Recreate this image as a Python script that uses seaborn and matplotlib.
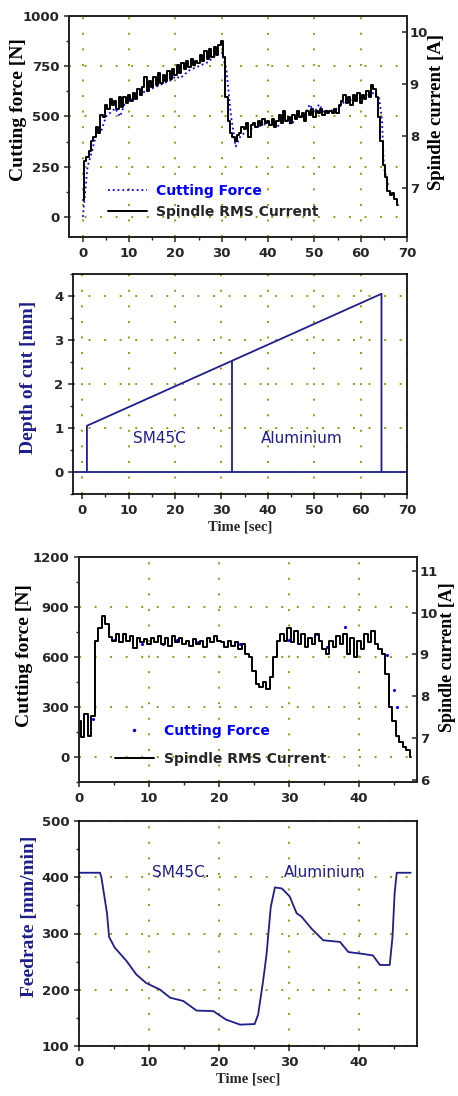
"""Cutting force / spindle current, depth of cut and feedrate traces (two cutting tests)."""
import numpy as np
import matplotlib
matplotlib.use("Agg")
import matplotlib.pyplot as plt
from matplotlib.lines import Line2D
from matplotlib.ticker import MultipleLocator
import seaborn as sns

# --- test 1: ramped depth of cut -------------------------------------------
# spindle RMS current [A], sampled every 0.5 s from t = 0
current1 = [
    6.77, 7.52, 7.60, 7.71, 7.90, 7.98, 8.17, 8.06, 8.40, 8.37,
    8.60, 8.52, 8.71, 8.60, 8.67, 8.52, 8.75, 8.56, 8.75, 8.63,
    8.79, 8.67, 8.83, 8.71, 8.90, 8.79, 8.94, 9.13, 8.87, 9.06,
    8.94, 9.13, 8.98, 9.21, 9.02, 9.17, 9.06, 9.25, 9.10, 9.29,
    9.17, 9.36, 9.21, 9.40, 9.29, 9.44, 9.33, 9.48, 9.37, 9.44,
    9.40, 9.56, 9.44, 9.63, 9.48, 9.67, 9.52, 9.71, 9.56, 9.75,
    9.83, 9.52, 8.75, 8.29, 8.06, 7.98, 7.90, 8.02, 8.06, 8.17,
    8.13, 8.25, 7.98, 8.21, 8.25, 8.17, 8.29, 8.21, 8.33, 8.25,
    8.29, 8.21, 8.33, 8.17, 8.29, 8.40, 8.25, 8.48, 8.29, 8.37,
    8.25, 8.40, 8.33, 8.48, 8.37, 8.44, 8.29, 8.48, 8.40, 8.52,
    8.37, 8.48, 8.44, 8.52, 8.40, 8.48, 8.44, 8.48, 8.44, 8.52,
    8.44, 8.60, 8.67, 8.79, 8.63, 8.75, 8.60, 8.79, 8.67, 8.83,
    8.63, 8.79, 8.71, 8.87, 8.75, 8.98, 8.90, 8.75, 8.37, 7.90,
    7.44, 7.21, 6.94, 6.87, 6.90, 6.79, 6.67,
]
# cutting force [N] (dynamometer, sparse samples)
force1_time = [
    0, 1, 2, 3, 4, 5, 6, 7, 8, 9, 10, 11, 12, 13, 14, 15, 16, 17, 18, 19,
    20, 21, 22, 23, 24, 25, 26, 27, 28, 29, 30, 31, 32, 33, 34, 35, 36, 37,
    38, 39, 40, 41, 42, 43, 44, 45, 46, 47, 48, 49, 50, 51, 52, 53, 54, 55,
    56, 57, 58, 59, 60, 61, 62, 63, 64, 64.6, 65, 66,
]
force1 = [
    0, 250, 330, 420, 430, 500, 520, 540, 500, 560, 580, 590, 600, 620,
    630, 640, 650, 660, 670, 680, 700, 690, 710, 730, 740, 750, 760, 770,
    790, 810, 820, 730, 500, 350, 400, 420, 430, 450, 450, 460, 460, 460,
    450, 470, 480, 460, 490, 500, 510, 560, 520, 560, 520, 530, 530, 540,
    560, 590, 580, 580, 590, 600, 610, 620, 590, 480, 250, 150,
]
# depth of cut profile [mm]
depth_time = [1.0, 1.0, 64.5, 64.5]
depth = [0.0, 1.05, 4.05, 0.0]
boundary_time = 32.3
boundary_depth = 2.53
materials = ["SM45C", "Aluminium"]

# --- test 2: feedrate control ----------------------------------------------
current2 = [
    7.42, 7.02, 7.58, 7.06, 7.54, 9.33, 9.64, 9.93, 9.72, 9.41,
    9.33, 9.49, 9.29, 9.49, 9.33, 9.45, 9.16, 9.40, 9.29, 9.37,
    9.25, 9.40, 9.29, 9.45, 9.25, 9.40, 9.21, 9.45, 9.29, 9.40,
    9.25, 9.33, 9.21, 9.37, 9.25, 9.33, 9.17, 9.40, 9.29, 9.45,
    9.33, 9.29, 9.17, 9.33, 9.21, 9.29, 9.13, 9.25, 9.01, 8.93,
    8.61, 8.29, 8.21, 8.33, 8.17, 8.45, 8.93, 9.33, 9.48, 9.33,
    9.64, 9.29, 9.56, 9.25, 9.48, 9.17, 9.40, 9.25, 9.48, 9.33,
    9.13, 9.01, 9.33, 9.17, 9.45, 9.25, 9.48, 9.01, 9.40, 8.93,
    9.33, 9.13, 9.48, 9.29, 9.56, 9.25, 9.13, 9.01, 8.53, 7.74,
    7.42, 7.06, 6.90, 6.79, 6.71, 6.55,
]
force2_time = [2.0, 5.0, 9.0, 12.0, 14.0, 17.0, 23.0, 30.0, 34.0, 35.5, 38.0, 44.0, 45.0, 45.5]
force2 = [230, 700, 680, 680, 700, 690, 680, 700, 740, 660, 780, 610, 400, 300]
feed_time = [
    0, 3.0, 3.2, 4.0, 4.3, 5.1, 6.8, 8.2, 9.6, 11.6, 13.0, 14.9, 16.8, 19.2,
    21.0, 23.0, 25.1, 25.6, 26.3, 26.8, 27.4, 28.0, 29.0, 30.1, 31.1, 31.8,
    33.2, 34.9, 37.3, 38.5, 40.4, 42.0, 43.0, 44.4, 44.8, 45.1, 45.4, 47.4,
]
feedrate = [
    408, 408, 400, 336, 294, 275, 251, 227, 212, 200, 186, 180, 163, 162,
    147, 138, 139, 156, 215, 263, 347, 382, 380, 366, 336, 330,
    309, 288, 285, 267, 264, 261, 244, 244, 294, 371, 408, 408,
]

BLUE = "#0000ff"
NAVY = "#1e1e8c"
OLIVE = "#9a9a10"
W, H = 458, 1096

sns.set_style("ticks")
plt.rcParams["font.family"] = ["DejaVu Sans"]
plt.rcParams["axes.linewidth"] = 1.2


def box(left, top, right, bottom):
    return [left / W, 1 - bottom / H, (right - left) / W, (bottom - top) / H]


def style(ax, xmaj, ymaj, ymin):
    ax.xaxis.set_major_locator(MultipleLocator(xmaj))
    ax.xaxis.set_minor_locator(MultipleLocator(xmaj / 2))
    ax.yaxis.set_major_locator(MultipleLocator(ymaj))
    ax.yaxis.set_minor_locator(MultipleLocator(ymin))
    ax.tick_params(which="major", direction="out", length=3.5, width=1.1, labelsize=9.5)
    ax.tick_params(which="minor", direction="out", length=2, width=1)
    for lab in ax.get_xticklabels() + ax.get_yticklabels():
        lab.set_fontweight("bold")
    ax.grid(True, which="major", color=OLIVE, linestyle=(0, (1, 7)), linewidth=1.4)
    for s in ax.spines.values():
        s.set_color("black")
        s.set_visible(True)


def right_axis(ax, lo, hi):
    ax.set_ylim(lo, hi)
    ax.yaxis.set_major_locator(MultipleLocator(1))
    ax.tick_params(direction="in", length=3.5, width=1.1, labelsize=9.5, pad=2)
    for lab in ax.get_yticklabels():
        lab.set_fontweight("bold")


def ylab(ax, text, x, y, color="black", size=14):
    ax.set_ylabel(text, family=["Liberation Serif"], fontweight="bold", fontsize=size, color=color, rotation=90)
    ax.yaxis.set_label_coords(x, y)


def legend(ax, handles, anchor, spacing):
    leg = ax.legend(handles, ["Cutting Force", "Spindle RMS Current"], loc="lower left",
                    bbox_to_anchor=anchor, frameon=False, borderpad=0,
                    prop={"size": 10, "weight": "bold"},
                    handlelength=2.8, handletextpad=0.7, labelspacing=spacing)
    leg.get_texts()[0].set_color(BLUE)


fig = plt.figure(figsize=(W / 100, H / 100), dpi=100)

# ---- panel 1 ----
ax1 = fig.add_axes(box(69, 16, 407, 237))
t1 = 0.5 * np.arange(len(current1))
sns.lineplot(x=force1_time, y=force1, ax=ax1, color=BLUE, linestyle=":", linewidth=1.3, estimator=None)
ax1.set_xlim(-3, 70)
ax1.set_ylim(-100, 1000)
style(ax1, 10, 250, 125)
ylab(ax1, "Cutting force [N]", -0.124, 0.575)
ax1b = ax1.twinx()
sns.lineplot(x=t1, y=current1, ax=ax1b, color="black", linewidth=1.4, drawstyle="steps-mid", estimator=None)
right_axis(ax1b, 6.06, 10.31)
ylab(ax1b, "Spindle current [A]", 1.062, 0.566, size=13.5)
legend(ax1b, [Line2D([], [], color=BLUE, linestyle=":", linewidth=1.3),
              Line2D([], [], color="black", linewidth=1.4)], (0.094, 0.05), 0.5)

# ---- panel 2 ----
ax2 = fig.add_axes(box(73, 274, 407, 494))
ax2.axhline(0, color=NAVY, linewidth=1.3)
sns.lineplot(x=depth_time, y=depth, ax=ax2, color=NAVY, linewidth=1.3, estimator=None, sort=False)
ax2.vlines(boundary_time, 0, boundary_depth, color=NAVY, linewidth=1.3)
ax2.set_xlim(-2, 70)
ax2.set_ylim(-0.5, 4.5)
style(ax2, 10, 1, 0.5)
ax2.text(16.7, 0.77, materials[0], color=NAVY, fontsize=11, ha="center", va="center")
ax2.text(47.4, 0.77, materials[1], color=NAVY, fontsize=11, ha="center", va="center")
ax2.set_xlabel("Time [sec]", family=["Liberation Serif"], fontweight="bold", fontsize=10.5, labelpad=3)
ylab(ax2, "Depth of cut [mm]", -0.108, 0.53, NAVY)

# ---- panel 3 ----
ax3 = fig.add_axes(box(79, 557, 417, 782))
t2 = 0.5 * np.arange(len(current2))
sns.scatterplot(x=force2_time, y=force2, ax=ax3, color=BLUE, s=5, linewidth=0)
ax3.set_xlim(0, 48.3)
ax3.set_ylim(-150, 1200)
style(ax3, 10, 300, 150)
ylab(ax3, "Cutting force [N]", -0.136, 0.56)
ax3b = ax3.twinx()
sns.lineplot(x=t2, y=current2, ax=ax3b, color="black", linewidth=1.4, drawstyle="steps-mid", estimator=None)
right_axis(ax3b, 5.95, 11.33)
ylab(ax3b, "Spindle current [A]", 1.066, 0.556, size=13)
legend(ax3b, [Line2D([], [], color=BLUE, linestyle="none", marker=".", markersize=3),
              Line2D([], [], color="black", linewidth=1.4)], (0.086, 0.04), 1.0)

# ---- panel 4 ----
ax4 = fig.add_axes(box(79, 821, 417, 1046))
sns.lineplot(x=feed_time, y=feedrate, ax=ax4, color=NAVY, linewidth=1.3, estimator=None, sort=False)
ax4.set_xlim(0, 48.3)
ax4.set_ylim(100, 500)
style(ax4, 10, 100, 50)
ax4.text(14.5, 409, materials[0] + ".", color=NAVY, fontsize=11, ha="center", va="center")
ax4.text(35.1, 409, materials[1], color=NAVY, fontsize=11, ha="center", va="center")
ax4.set_xlabel("Time [sec]", family=["Liberation Serif"], fontweight="bold", fontsize=10.5, labelpad=3)
ylab(ax4, "Feedrate [mm/min]", -0.121, 0.578, NAVY)

fig.savefig("out.png", dpi=100)
